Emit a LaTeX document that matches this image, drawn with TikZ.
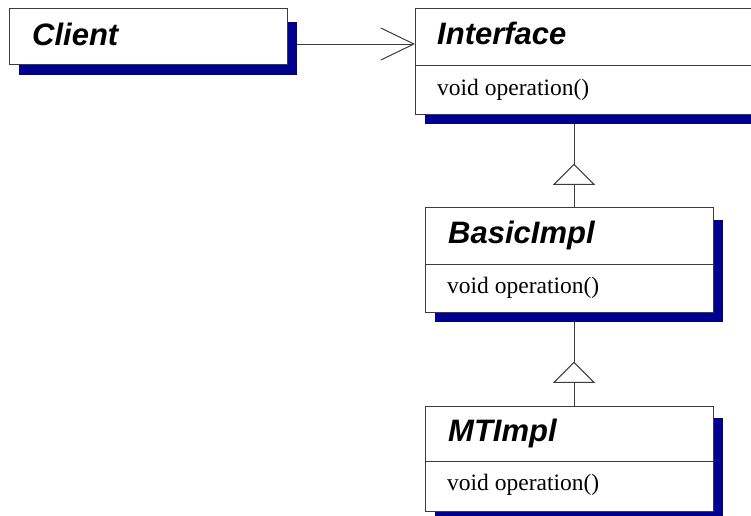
\documentclass[tikz,border=0pt]{standalone}
\usepackage{fontspec}
\setmainfont{Liberation Serif}
\newfontfamily\titlefont{Liberation Sans}
\usetikzlibrary{arrows.meta,decorations.markings}
\definecolor{shade}{RGB}{0,0,144}
\definecolor{edge}{RGB}{60,60,60}
\tikzset{
  umlbox/.style={draw=edge, fill=white, line width=1pt, rectangle, inner sep=0pt, anchor=north west},
  shadowbox/.style={fill=shade, draw=none, rectangle, inner sep=0pt, anchor=north west},
  classtitle/.style={anchor=base west, inner sep=0pt, font=\titlefont\bfseries\itshape\fontsize{31}{36}\selectfont},
  member/.style={anchor=base west, inner sep=0pt, font=\fontsize{23.5}{28}\selectfont},
  divider/.style={draw=edge, line width=1pt},
  link/.style={draw=edge, line width=1pt},
  inherit/.style={link, postaction={decorate}, decoration={markings,
      mark=at position -40pt with {\draw[edge, fill=white, line width=1pt] (0pt,0pt) -- (-20pt,20pt) -- (-20pt,-20pt) -- cycle;}}},
}
\begin{document}
\begin{tikzpicture}[x=1pt,y=-1pt]
\clip (0,0) rectangle (751,515);
\fill[white] (0,0) rectangle (751,515);
% Client
\node[shadowbox, minimum width=278pt, minimum height=53pt] (cshadow) at (19,22) {};
\node[umlbox, minimum width=278pt, minimum height=56pt] (client) at (9,8) {};
\node[classtitle] (ctitle) at (32,45) {Client};
% Interface
\node[shadowbox, minimum width=345pt, minimum height=111pt] (ishadow) at (425,13) {};
\node[umlbox, minimum width=345pt, minimum height=106pt] (iface) at (415,8) {};
\draw[divider] (415,65) -- (760,65);
\node[classtitle] (ititle) at (437,44) {Interface};
\node[member] (iop) at (437,95) {void operation()};
% BasicImpl
\node[shadowbox, minimum width=288pt, minimum height=102pt] (bshadow) at (435,220) {};
\node[umlbox, minimum width=288pt, minimum height=105pt] (basic) at (425,207) {};
\draw[divider] (425,264) -- (713,264);
\node[classtitle] (btitle) at (448,243) {BasicImpl};
\node[member] (bop) at (447,293) {void operation()};
% MTImpl
\node[shadowbox, minimum width=288pt, minimum height=102pt] (mshadow) at (435,418) {};
\node[umlbox, minimum width=288pt, minimum height=105pt] (mt) at (425,406) {};
\draw[divider] (425,461) -- (713,461);
\node[classtitle] (mtitle) at (448,441) {MTImpl};
\node[member] (mop) at (447,490) {void operation()};
% connectors
\coordinate (axis) at (574,0);
\coordinate (arrowrow) at (0,44);
\draw[link, -{Straight Barb[length=33pt, width=32pt]}] (cshadow.east |- arrowrow) -- (iface.west |- arrowrow);
\draw[inherit] (basic.north -| axis) -- (ishadow.south -| axis);
\draw[inherit] (mt.north -| axis) -- (bshadow.south -| axis);
\end{tikzpicture}
\end{document}
